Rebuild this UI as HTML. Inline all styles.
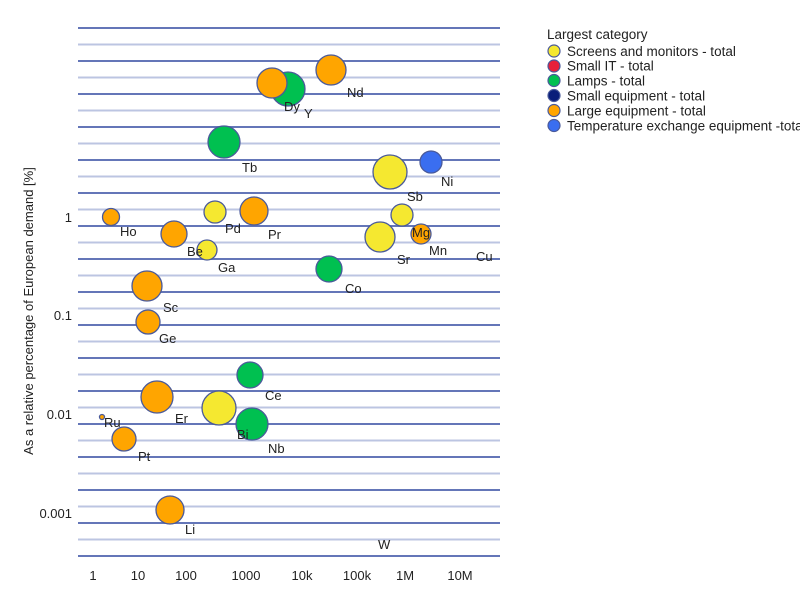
<!DOCTYPE html>
<html><head><meta charset="utf-8"><style>
html,body{margin:0;padding:0;background:#fff;}
svg{display:block;font-family:"Liberation Sans",sans-serif;}
</style></head><body>
<svg width="800" height="603" viewBox="0 0 800 603" xmlns="http://www.w3.org/2000/svg">
<g id="grid" stroke-width="2">
<line x1="78" x2="500" y1="28" y2="28" stroke="#6476b8"/>
<line x1="78" x2="500" y1="44.5" y2="44.5" stroke="#bcc5e2"/>
<line x1="78" x2="500" y1="61" y2="61" stroke="#6476b8"/>
<line x1="78" x2="500" y1="77.5" y2="77.5" stroke="#bcc5e2"/>
<line x1="78" x2="500" y1="94" y2="94" stroke="#6476b8"/>
<line x1="78" x2="500" y1="110.5" y2="110.5" stroke="#bcc5e2"/>
<line x1="78" x2="500" y1="127" y2="127" stroke="#6476b8"/>
<line x1="78" x2="500" y1="143.5" y2="143.5" stroke="#bcc5e2"/>
<line x1="78" x2="500" y1="160" y2="160" stroke="#6476b8"/>
<line x1="78" x2="500" y1="176.5" y2="176.5" stroke="#bcc5e2"/>
<line x1="78" x2="500" y1="193" y2="193" stroke="#6476b8"/>
<line x1="78" x2="500" y1="209.5" y2="209.5" stroke="#bcc5e2"/>
<line x1="78" x2="500" y1="226" y2="226" stroke="#6476b8"/>
<line x1="78" x2="500" y1="242.5" y2="242.5" stroke="#bcc5e2"/>
<line x1="78" x2="500" y1="259" y2="259" stroke="#6476b8"/>
<line x1="78" x2="500" y1="275.5" y2="275.5" stroke="#bcc5e2"/>
<line x1="78" x2="500" y1="292" y2="292" stroke="#6476b8"/>
<line x1="78" x2="500" y1="308.5" y2="308.5" stroke="#bcc5e2"/>
<line x1="78" x2="500" y1="325" y2="325" stroke="#6476b8"/>
<line x1="78" x2="500" y1="341.5" y2="341.5" stroke="#bcc5e2"/>
<line x1="78" x2="500" y1="358" y2="358" stroke="#6476b8"/>
<line x1="78" x2="500" y1="374.5" y2="374.5" stroke="#bcc5e2"/>
<line x1="78" x2="500" y1="391" y2="391" stroke="#6476b8"/>
<line x1="78" x2="500" y1="407.5" y2="407.5" stroke="#bcc5e2"/>
<line x1="78" x2="500" y1="424" y2="424" stroke="#6476b8"/>
<line x1="78" x2="500" y1="440.5" y2="440.5" stroke="#bcc5e2"/>
<line x1="78" x2="500" y1="457" y2="457" stroke="#6476b8"/>
<line x1="78" x2="500" y1="473.5" y2="473.5" stroke="#bcc5e2"/>
<line x1="78" x2="500" y1="490" y2="490" stroke="#6476b8"/>
<line x1="78" x2="500" y1="506.5" y2="506.5" stroke="#bcc5e2"/>
<line x1="78" x2="500" y1="523" y2="523" stroke="#6476b8"/>
<line x1="78" x2="500" y1="539.5" y2="539.5" stroke="#bcc5e2"/>
<line x1="78" x2="500" y1="556" y2="556" stroke="#6476b8"/>
</g>
<g font-size="13" fill="#222">
<text x="33" y="311" text-anchor="middle" transform="rotate(-90 33 311)">As a relative percentage of European demand [%]</text>
<g text-anchor="end">
<text x="72" y="222">1</text>
<text x="72" y="320">0.1</text>
<text x="72" y="419">0.01</text>
<text x="72" y="518">0.001</text>
</g>
<g text-anchor="middle">
<text x="93" y="580">1</text>
<text x="138" y="580">10</text>
<text x="186" y="580">100</text>
<text x="246" y="580">1000</text>
<text x="302" y="580">10k</text>
<text x="357" y="580">100k</text>
<text x="405" y="580">1M</text>
<text x="460" y="580">10M</text>
</g>
</g>
<g stroke="#4a5a9a" stroke-width="1.3">
<circle cx="331" cy="70" r="15" fill="#ffa500"/>
<circle cx="288" cy="89" r="17" fill="#00c050"/>
<circle cx="272" cy="83" r="15" fill="#ffa500"/>
<circle cx="224" cy="142" r="16" fill="#00c050"/>
<circle cx="390" cy="172" r="17" fill="#f5e830"/>
<circle cx="431" cy="162" r="11" fill="#3a6ef0"/>
<circle cx="111" cy="217" r="8.5" fill="#ffa500"/>
<circle cx="215" cy="212" r="11" fill="#f5e830"/>
<circle cx="254" cy="211" r="14" fill="#ffa500"/>
<circle cx="174" cy="234" r="13" fill="#ffa500"/>
<circle cx="207" cy="250" r="10" fill="#f5e830"/>
<circle cx="402" cy="215" r="11" fill="#f5e830"/>
<circle cx="421" cy="234" r="10" fill="#ffa500"/>
<circle cx="380" cy="237" r="15" fill="#f5e830"/>
<circle cx="329" cy="269" r="13" fill="#00c050"/>
<circle cx="147" cy="286" r="15" fill="#ffa500"/>
<circle cx="148" cy="322" r="12" fill="#ffa500"/>
<circle cx="250" cy="375" r="13" fill="#00c050"/>
<circle cx="157" cy="397" r="16" fill="#ffa500"/>
<circle cx="219" cy="408" r="17" fill="#f5e830"/>
<circle cx="252" cy="424" r="16" fill="#00c050"/>
<circle cx="102" cy="417" r="2.5" fill="#ffa500"/>
<circle cx="124" cy="439" r="12" fill="#ffa500"/>
<circle cx="170" cy="510" r="14" fill="#ffa500"/>
</g>
<g font-size="13" fill="#222">
<text x="347" y="97">Nd</text>
<text x="284" y="111">Dy</text>
<text x="304" y="118">Y</text>
<text x="242" y="172">Tb</text>
<text x="441" y="186">Ni</text>
<text x="407" y="201">Sb</text>
<text x="120" y="236">Ho</text>
<text x="225" y="233">Pd</text>
<text x="268" y="239">Pr</text>
<text x="412" y="237">Mg</text>
<text x="429" y="255">Mn</text>
<text x="397" y="264">Sr</text>
<text x="476" y="261">Cu</text>
<text x="187" y="256">Be</text>
<text x="218" y="272">Ga</text>
<text x="345" y="293">Co</text>
<text x="163" y="312">Sc</text>
<text x="159" y="343">Ge</text>
<text x="265" y="400">Ce</text>
<text x="175" y="423">Er</text>
<text x="237" y="439">Bi</text>
<text x="268" y="453">Nb</text>
<text x="104" y="427">Ru</text>
<text x="138" y="461">Pt</text>
<text x="185" y="534">Li</text>
<text x="378" y="549">W</text>
</g>
<g font-size="13.5" fill="#222">
<text x="547" y="39">Largest category</text>
<g stroke="#4a5a9a" stroke-width="1.2">
<circle cx="554" cy="51" r="6" fill="#f5e830"/>
<circle cx="554" cy="66" r="6" fill="#e8203a"/>
<circle cx="554" cy="80.5" r="6" fill="#00c050"/>
<circle cx="554" cy="95.5" r="6" fill="#0a1e7a"/>
<circle cx="554" cy="110.5" r="6" fill="#ffa500"/>
<circle cx="554" cy="125.5" r="6" fill="#3a6ef0"/>
</g>
<text x="567" y="56">Screens and monitors - total</text>
<text x="567" y="70.5">Small IT - total</text>
<text x="567" y="85.5">Lamps - total</text>
<text x="567" y="100.5">Small equipment - total</text>
<text x="567" y="115.5">Large equipment - total</text>
<text x="567" y="130.5">Temperature exchange equipment -total</text>
</g>
</svg>
</body></html>
